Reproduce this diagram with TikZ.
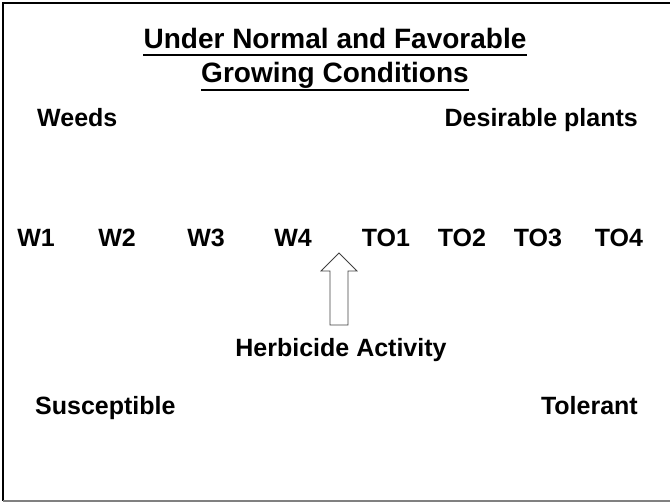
\documentclass[tikz,border=0pt]{standalone}
\usepackage{fontspec}
\setmainfont{Liberation Sans}
\usetikzlibrary{calc}

\tikzset{
  txt/.style={inner sep=0pt, font=\fontsize{25}{30}\selectfont\bfseries},
  head/.style={inner sep=0pt, font=\fontsize{28}{33}\selectfont\bfseries},
  ul/.style={line width=2pt},
}

\begin{document}
\begin{tikzpicture}[x=1pt, y=-1pt]
\useasboundingbox (0,0) rectangle (670,502);
\draw[line width=2pt] (670,3) -- (3,3) -- (3,501);
\draw[line width=1.5pt, gray] (3,500.8) -- (670,500.8);

\node[head, anchor=base] (H1) at (335, 49) {Under Normal and Favorable};
\node[head, anchor=base] (H2) at (335, 83) {Growing Conditions};
\draw[ul] ([yshift=-6pt]H1.base west) -- ([yshift=-6pt]H1.base east);
\draw[ul] ([yshift=-7pt]H2.base west) -- ([yshift=-7pt]H2.base east);

\node[txt, anchor=base west] (WD) at (37, 127) {Weeds};
\node[txt, anchor=base east] (DP) at (638, 127) {Desirable plants};

\node[txt, anchor=base] (W1) at (36, 247) {W1};
\node[txt, anchor=base] (W2) at (117, 247) {W2};
\node[txt, anchor=base] (W3) at (206, 247) {W3};
\node[txt, anchor=base] (W4) at (293, 247) {W4};
\node[txt, anchor=base] (T1) at (386, 247) {TO1};
\node[txt, anchor=base] (T2) at (462, 247) {TO2};
\node[txt, anchor=base] (T3) at (538, 247) {TO3};
\node[txt, anchor=base] (T4) at (619, 247) {TO4};

\draw[line width=0.8pt, black!75] (330,325) -- (330,271) -- (321,271) -- (339,253)
  -- (357,271) -- (348,271) -- (348,325) -- cycle;

\node[txt, anchor=base] (HA) at (341, 357) {Herbicide Activity};
\node[txt, anchor=base west] (SU) at (35, 415) {Susceptible};
\node[txt, anchor=base east] (TL) at (638, 415) {Tolerant};
\end{tikzpicture}
\end{document}
